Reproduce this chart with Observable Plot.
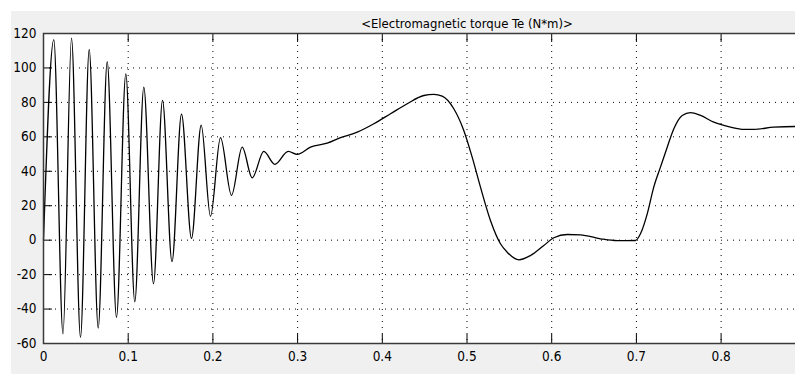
<!DOCTYPE html>
<html><head><meta charset="utf-8">
<script src="https://cdn.jsdelivr.net/npm/d3@7"></script>
<script src="https://cdn.jsdelivr.net/npm/@observablehq/plot@0.6"></script>
<style>
html,body{margin:0;padding:0;background:#fff;overflow:hidden;}
#wrap{position:relative;width:795px;height:374px;overflow:hidden;}
#bg{position:absolute;left:11px;top:11px;right:0;bottom:0;background:#f0f0f0;}
#chart{position:absolute;left:0;top:0;width:890px;}
#chart svg{max-width:none !important;width:890px !important;height:374px !important;}
</style></head><body>
<div id="wrap"><div id="bg"></div><div id="chart"></div></div>
<script>
const title = "<Electromagnetic torque Te (N*m)>";
const time = [0, 0.01216, 0.02302, 0.03306, 0.04368, 0.05396, 0.06458, 0.07521, 0.08619, 0.09717,
  0.10779, 0.11842, 0.12987, 0.14050, 0.15171, 0.16293, 0.17473, 0.18619, 0.19717, 0.20897,
  0.22196, 0.23459, 0.24640, 0.26010, 0.27308, 0.28890, 0.29953,
  0.3152, 0.3349, 0.3507, 0.3704, 0.3900, 0.4097, 0.4294, 0.4490, 0.4608, 0.4707, 0.4844,
  0.4962, 0.5061, 0.5159, 0.5277, 0.5395, 0.5475, 0.5612, 0.5750, 0.5907, 0.6025, 0.6183,
  0.6340, 0.6576, 0.6773, 0.6989, 0.7048, 0.7128, 0.7205, 0.7284, 0.7364, 0.7442, 0.7541,
  0.7639, 0.7757, 0.7914, 0.8111, 0.8268, 0.8386, 0.8622, 0.8878, 0.8950];
const torque = [0, 116.4, -54.4, 117.3, -56.5, 110.7, -51, 103.6, -44.8, 96.5,
  -35.8, 88.9, -25.3, 81.2, -12.5, 73.2, 1, 66.8, 13.8, 59.5,
  26, 54, 36.2, 51.5, 44, 51.5, 49.8,
  54, 56.3, 59.5, 62.7, 67.6, 73.4, 79.2, 84, 84.6, 83.6, 76.3,
  63.7, 48.2, 30.8, 11.4, -2.1, -7, -11.4, -8.9, -3.1, 1.4, 3.3,
  3.1, 0.8, -0.3, -0.2, 3.7, 15.3, 30.8, 42.4, 54, 64.7, 72.4,
  74, 72.4, 68.5, 65.6, 64.3, 64.3, 65.6, 66, 66];
const xTicks = [0, 0.1, 0.2, 0.3, 0.4, 0.5, 0.6, 0.7, 0.8];
const xTickLabels = ["0", "0.1", "0.2", "0.3", "0.4", "0.5", "0.6", "0.7", "0.8"];
const yTicks = [-60, -40, -20, 0, 20, 40, 60, 80, 100, 120];
const yTickLabels = ["-60", "-40", "-20", "0", "20", "40", "60", "80", "100", "120"];

const data = time.map((t, i) => ({t, v: torque[i]}));
const font = "'Liberation Sans Narrow','Arial Narrow','DejaVu Sans Condensed',sans-serif";
const W = 890, H = 374, ML = 43, MT = 33, MB = 31, TICK = 9;
const chart = Plot.plot({
  width: W, height: H,
  marginLeft: ML, marginRight: 0, marginTop: MT, marginBottom: MB,
  x: {domain: [0, 1], label: null},
  y: {domain: [-60, 120], label: null},
  style: {background: "transparent", fontFamily: font, fontSize: "13px", color: "#000", maxWidth: "none"},
  marks: [
    Plot.frame({fill: "white", stroke: null}),
    Plot.gridX(xTicks, {stroke: "#000", strokeOpacity: 1, strokeDasharray: "1,5"}),
    Plot.gridY(yTicks, {stroke: "#000", strokeOpacity: 1, strokeDasharray: "1,5"}),
    Plot.ruleX(xTicks, {stroke: "#000", insetTop: H - MT - MB - TICK}),
    Plot.ruleX(xTicks, {stroke: "#000", insetBottom: H - MT - MB - TICK}),
    Plot.ruleY(yTicks, {stroke: "#000", insetRight: W - ML - TICK}),
    Plot.axisX(xTicks, {anchor: "bottom", tickSize: 0, tickPadding: 8, label: null, tickFormat: (d, i) => xTickLabels[i], fontSize: 13.5}),
    Plot.axisY(yTicks, {anchor: "left", tickSize: 0, tickPadding: 7, label: null, tickFormat: (d, i) => yTickLabels[i], fontSize: 13.5}),
    Plot.line(data, {x: "t", y: "v", curve: "monotone-x", stroke: "#000", strokeWidth: 1.3}),
    Plot.frame({stroke: "#3a3a3a", strokeWidth: 1.5}),
    Plot.text([title], {frameAnchor: "top", dy: -15, fontSize: 13, fill: "#000"})
  ]
});
document.getElementById("chart").appendChild(chart);
</script>
</body></html>
